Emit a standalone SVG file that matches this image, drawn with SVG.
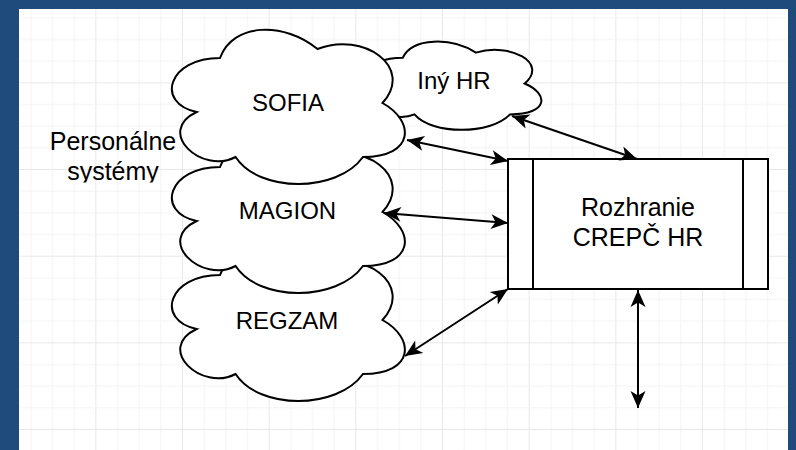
<svg xmlns="http://www.w3.org/2000/svg" width="796" height="450" viewBox="0 0 796 450">
  <style>
    .cloud { fill: #ffffff; stroke: #000000; stroke-width: 2; }
    .proc { fill: #ffffff; stroke: #000000; stroke-width: 2; }
    .lbl { font-family: "Liberation Sans", Arial, sans-serif; font-size: 24px; fill: #000000; text-anchor: middle; }
    .lbl25 { font-size: 25px; }
    .conn { fill: none; stroke: #000000; stroke-width: 2; marker-start: url(#arr); marker-end: url(#arr); }
  </style>
  <defs>
    <marker id="arr" markerUnits="userSpaceOnUse" viewBox="-19 -9 21 18" refX="0" refY="0" markerWidth="21" markerHeight="18" orient="auto-start-reverse">
      <path d="M0,0 L-17,-7.5 L-12.5,0 L-17,7.5 Z" fill="#000000"/>
    </marker>
    <pattern id="grid" patternUnits="userSpaceOnUse" x="8.67" y="-4.33" width="86.67" height="86.67">
      <rect x="0" y="0" width="1" height="86.67" fill="#e8e8e8"/>
      <rect x="21.67" y="0" width="1" height="86.67" fill="#f3f3f3"/>
      <rect x="43.33" y="0" width="1" height="86.67" fill="#f3f3f3"/>
      <rect x="65" y="0" width="1" height="86.67" fill="#f3f3f3"/>
      <rect x="0" y="0" width="86.67" height="1" fill="#e8e8e8"/>
      <rect x="0" y="21.67" width="86.67" height="1" fill="#f3f3f3"/>
      <rect x="0" y="43.33" width="86.67" height="1" fill="#f3f3f3"/>
      <rect x="0" y="65" width="86.67" height="1" fill="#f3f3f3"/>
    </pattern>
    <clipPath id="clipLabel">
      <rect x="0" y="0" width="180" height="182.5"/>
    </clipPath>
  </defs>

  <rect x="0" y="0" width="796" height="450" fill="#1f4a7c"/>
  <rect x="19" y="9" width="769" height="441" fill="#ffffff"/>
  <rect x="19" y="9" width="769" height="441" fill="url(#grid)"/>

  <g id="regzam">
    <path class="cloud" d="M 220 275 C 168 275, 155 320, 196.6 329 C 155 348.8, 201.8 392, 235.6 374 C 259 410, 337 410, 363 374 C 415 374, 415 338, 382.5 320 C 415 284, 363 248, 317.5 266 C 285 239, 233 239, 220 275 Z"/>
    <text class="lbl" x="287" y="329">REGZAM</text>
  </g>

  <g id="magion">
    <path class="cloud" d="M 220 167 C 168 167, 155 212, 196.6 221 C 155 240.8, 201.8 284, 235.6 266 C 259 302, 337 302, 363 266 C 415 266, 415 230, 382.5 212 C 415 176, 363 140, 317.5 158 C 285 131, 233 131, 220 167 Z"/>
    <text class="lbl" x="287.5" y="219">MAGION</text>
  </g>

  <g id="iny-hr">
    <path class="cloud" d="M 402.75 57.75 C 363.75 57.75, 354 83.5, 385.2 88.65 C 354 100, 389.1 124.7, 414.45 114.4 C 432 135, 490.5 135, 510 114.4 C 549 114.4, 549 93.8, 524.6 83.5 C 549 62.9, 510 42.3, 475.9 52.6 C 451.5 37.15, 412.5 37.15, 402.75 57.75 Z"/>
    <text class="lbl" x="454" y="89">Iný HR</text>
  </g>

  <g id="sofia">
    <path class="cloud" d="M 220 58 C 168 58, 155 103, 196.6 112 C 155 131.8, 201.8 175, 235.6 157 C 259 193, 337 193, 363 157 C 415 157, 415 121, 382.5 103 C 415 67, 363 31, 317.5 49 C 285 22, 233 22, 220 58 Z"/>
    <text class="lbl" x="288" y="111">SOFIA</text>
  </g>

  <g id="personalne-systemy" clip-path="url(#clipLabel)">
    <text class="lbl lbl25" x="113" y="150">Personálne</text>
    <text class="lbl lbl25" x="113" y="180">systémy</text>
  </g>

  <g id="rozhranie">
    <rect class="proc" x="508" y="159" width="260" height="130"/>
    <line class="proc" x1="533" y1="159" x2="533" y2="289"/>
    <line class="proc" x1="743" y1="159" x2="743" y2="289"/>
    <text class="lbl lbl25" x="638" y="215.5">Rozhranie</text>
    <text class="lbl lbl25" x="638" y="246">CREPČ HR</text>
  </g>

  <g id="connectors">
    <path class="conn" d="M 407 140 L 508 161"/>
    <path class="conn" d="M 512 116 L 637 159"/>
    <path class="conn" d="M 384 213 L 508 223"/>
    <path class="conn" d="M 405 356 L 508 289"/>
    <path class="conn" d="M 638 290 L 638 408"/>
  </g>
</svg>
